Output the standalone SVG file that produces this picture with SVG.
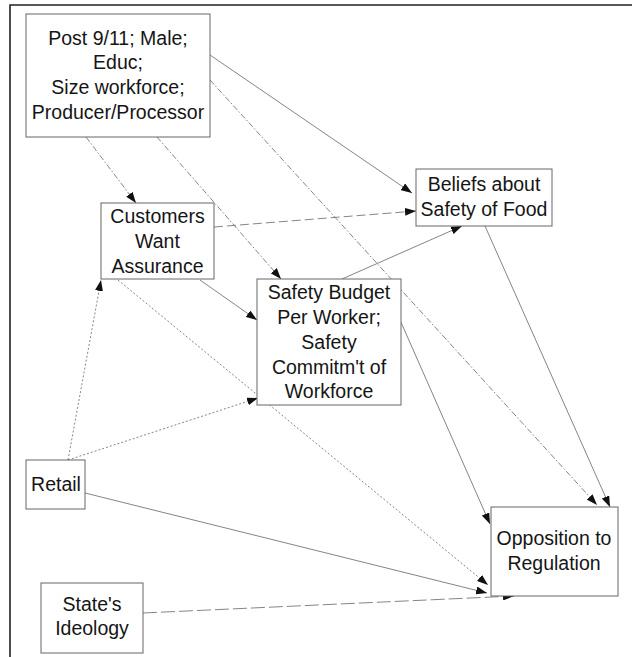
<svg xmlns="http://www.w3.org/2000/svg" width="632" height="657" viewBox="0 0 632 657">
<defs>
<marker id="ah" viewBox="0 0 11 8" refX="11" refY="4" markerWidth="11" markerHeight="8" markerUnits="userSpaceOnUse" orient="auto">
<path d="M0,0 L11,4 L0,8 z" fill="#111"/>
</marker>
<style>
.box{fill:#fff;stroke:#666;stroke-width:1}
.t{font-family:"Liberation Sans",Arial,sans-serif;font-size:19.5px;fill:#151515;text-anchor:middle}
.c{fill:none;stroke:#777;stroke-width:0.9;marker-end:url(#ah)}
.dd{stroke-dasharray:6 2 1.5 2}
.dt{stroke-dasharray:2 2}
.ds{stroke-dasharray:9 4}
.dl{stroke-dasharray:14 4}
</style>
</defs>
<rect x="0" y="0" width="632" height="657" fill="#fff"/>
<path d="M10,657 V5 H632" fill="none" stroke="#222" stroke-width="1.6"/>
<g id="connectors">
<line class="c" x1="210" y1="55" x2="412" y2="193"/>
<line class="c dd" x1="86" y1="137" x2="136" y2="203"/>
<line class="c dd" x1="157" y1="137" x2="281" y2="279"/>
<line class="c dd" x1="210" y1="80" x2="597" y2="505"/>
<line class="c ds" x1="214" y1="227" x2="416" y2="211"/>
<line class="c" x1="200" y1="280" x2="257" y2="320"/>
<line class="c dt" x1="118" y1="280" x2="488" y2="585"/>
<line class="c" x1="342" y1="279" x2="462" y2="226"/>
<line class="c" x1="400" y1="320" x2="490" y2="524"/>
<line class="c" x1="485" y1="226" x2="610" y2="507"/>
<line class="c dt" x1="68" y1="460" x2="101" y2="280"/>
<line class="c dt" x1="68" y1="460" x2="258" y2="398"/>
<line class="c" x1="85" y1="493" x2="487" y2="593"/>
<line class="c dl" x1="143" y1="613" x2="514" y2="596"/>
</g>
<g id="n_top">
<rect class="box" x="26" y="14" width="184" height="123"/>
<text class="t" x="118" y="45">Post 9/11; Male;</text>
<text class="t" x="118" y="69">Educ;</text>
<text class="t" x="118" y="94">Size workforce;</text>
<text class="t" x="118" y="119">Producer/Processor</text>
</g>
<g id="n_customers">
<rect class="box" x="101" y="203" width="113" height="76"/>
<text class="t" x="157.5" y="223">Customers</text>
<text class="t" x="157.5" y="248">Want</text>
<text class="t" x="157.5" y="273">Assurance</text>
</g>
<g id="n_safety">
<rect class="box" x="257" y="279" width="144" height="126"/>
<text class="t" x="329" y="299">Safety Budget</text>
<text class="t" x="329" y="324">Per Worker;</text>
<text class="t" x="329" y="349">Safety</text>
<text class="t" x="329" y="374">Commitm't of</text>
<text class="t" x="329" y="398">Workforce</text>
</g>
<g id="n_beliefs">
<rect class="box" x="416" y="169" width="136" height="57"/>
<text class="t" x="484" y="191">Beliefs about</text>
<text class="t" x="484" y="216">Safety of Food</text>
</g>
<g id="n_opposition">
<rect class="box" x="491" y="507" width="127" height="89"/>
<text class="t" x="554" y="545">Opposition to</text>
<text class="t" x="554" y="570">Regulation</text>
</g>
<g id="n_retail">
<rect class="box" x="26" y="460" width="59" height="49"/>
<text class="t" x="56" y="491">Retail</text>
</g>
<g id="n_state">
<rect class="box" x="41" y="583" width="102" height="70"/>
<text class="t" x="92" y="611">State's</text>
<text class="t" x="92" y="635">Ideology</text>
</g>
</svg>
